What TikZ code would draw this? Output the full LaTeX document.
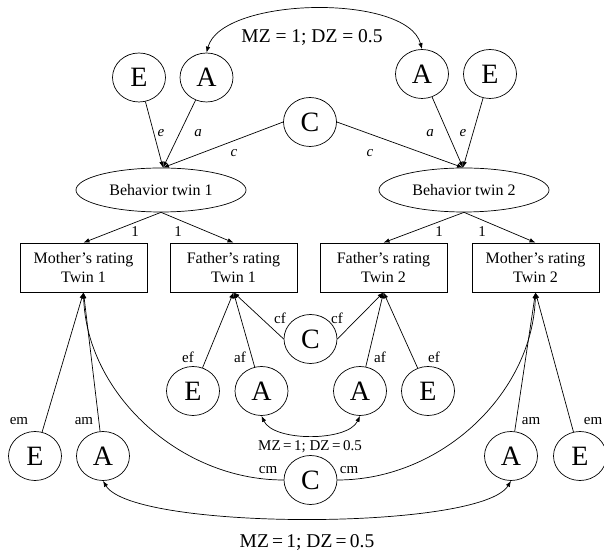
\documentclass[tikz,border=0pt]{standalone}
\usepackage{fontspec}
\setmainfont{Liberation Serif}
\usetikzlibrary{shapes.geometric,arrows.meta}
\begin{document}
\begin{tikzpicture}[x=1pt,y=1pt,
  every path/.style={line width=0.7pt},
  >={Latex[length=6pt,width=4.5pt]},
  lat/.style={draw, ellipse, minimum width=53pt, minimum height=49pt, inner sep=0pt, font=\fontsize{28}{30}\selectfont},
  obs/.style={draw, rectangle, minimum width=127pt, minimum height=49pt, inner sep=0pt, align=center, font=\fontsize{16}{19.5}\selectfont},
  beh/.style={draw, ellipse, minimum width=170pt, minimum height=44pt, inner sep=0pt, font=\fontsize{16}{19}\selectfont},
  lbl/.style={inner sep=0pt, font=\fontsize{15}{18}\selectfont},
  ilbl/.style={inner sep=0pt, font=\fontsize{15}{18}\selectfont\itshape},
  big/.style={inner sep=0pt, font=\fontsize{19.5}{22}\selectfont},
  mid/.style={inner sep=0pt, font=\fontsize{15}{18}\selectfont}
]
\useasboundingbox (0,0) rectangle (604,553);

% top latent variables
\node[lat] (E1) at (139,475.5) {E};
\node[lat] (A1) at (206.5,475.5) {A};
\node[lat] (A2) at (422,479) {A};
\node[lat] (E2) at (490,479) {E};
\node[lat] (Ct) at (310,431) {C};

% behaviour
\node[beh] (B1) at (161,363) {Behavior twin 1};
\node[beh] (B2) at (464,363) {Behavior twin 2};
\coordinate (b1in) at ([xshift=2pt]B1.north);
\coordinate (b2in) at ([xshift=-1pt]B2.north);

% boxes
\node[obs] (M1) at (83.5,285.5) {Mother’s rating\\Twin 1};
\node[obs] (F1) at (233.5,285.5) {Father’s rating\\Twin 1};
\node[obs] (F2) at (383.5,285.5) {Father’s rating\\Twin 2};
\node[obs] (M2) at (535.5,285.5) {Mother’s rating\\Twin 2};

% middle latent variables
\node[lat] (Cm) at (310.5,214) {C};
\node[lat] (Ef1) at (193,162) {E};
\node[lat] (Af1) at (261.5,162) {A};
\node[lat] (Af2) at (360,162) {A};
\node[lat] (Ef2) at (428,162) {E};

% bottom latent variables
\node[lat] (Cb) at (310.5,73) {C};
\node[lat] (Em1) at (35,97) {E};
\node[lat] (Am1) at (103,97) {A};
\node[lat] (Am2) at (511,97) {A};
\node[lat] (Em2) at (580,97) {E};

% top paths
\draw[->] (E1) -- (b1in);
\draw[->] (A1) -- (b1in);
\draw[->] (Ct.west) -- (b1in);
\draw[->] (A2) -- (b2in);
\draw[->] (E2) -- (b2in);
\draw[->] (Ct.east) -- (b2in);
\draw[<->] (A1.north) .. controls +(15,56) and +(-15,56) .. (A2.north);
\node[big] (topl) at (312,515) {MZ = 1; DZ = 0.5};

\node[ilbl] (le1) at (161,420) {e};
\node[ilbl] (la1) at (198,420) {a};
\node[ilbl] (lc1) at (234,400) {c};
\node[ilbl] (la2) at (430,420) {a};
\node[ilbl] (le2) at (463,420) {e};
\node[ilbl] (lc2) at (370,400) {c};

% loadings
\draw[->] (B1.south) -- (M1.north);
\draw[->] (B1.south) -- (F1.north);
\draw[->] (B2.south) -- (F2.north);
\draw[->] (B2.south) -- (M2.north);
\node[lbl] (l11) at (135,321) {1};
\node[lbl] (l12) at (178,321) {1};
\node[lbl] (l21) at (439,321) {1};
\node[lbl] (l22) at (482,321) {1};

% father paths
\draw[->] (Ef1) -- (F1.south);
\draw[->] (Af1) -- (F1.south);
\draw[->] (Cm.west) -- (F1.south);
\draw[->] (Af2) -- (F2.south);
\draw[->] (Ef2) -- (F2.south);
\draw[->] (Cm.east) -- (F2.south);
\draw[<->] (Af1.south) .. controls +(12,-26) and +(-12,-26) .. (Af2.south);
\node[mid] (midl) at (310,106) {MZ\,=\,1; DZ\,=\,0.5};

\node[lbl] (lef1) at (188,196) {ef};
\node[lbl] (laf1) at (240,196) {af};
\node[lbl] (lcf1) at (280,235) {cf};
\node[lbl] (lcf2) at (337,235) {cf};
\node[lbl] (laf2) at (380,196) {af};
\node[lbl] (lef2) at (434,196) {ef};

% mother paths
\draw[->] (Em1) -- (M1.south);
\draw[->] (Am1) -- (M1.south);
\draw[->] (Cb.west) .. controls +(-105,0) and +(3,-100) .. (M1.south);
\draw[->] (Am2) -- (M2.south);
\draw[->] (Em2) -- (M2.south);
\draw[->] (Cb.east) .. controls +(105,0) and +(-3,-100) .. (M2.south);
\draw[<->] (Am1.south) .. controls +(30,-50) and +(-30,-50) .. (Am2.south);
\node[big] (botl) at (307,10) {MZ\,=\,1; DZ\,=\,0.5};

\node[lbl] (lem1) at (19,132) {em};
\node[lbl] (lam1) at (84,132) {am};
\node[lbl] (lcm1) at (268,83) {cm};
\node[lbl] (lcm2) at (349,83) {cm};
\node[lbl] (lam2) at (531,132) {am};
\node[lbl] (lem2) at (593,132) {em};
\end{tikzpicture}
\end{document}
